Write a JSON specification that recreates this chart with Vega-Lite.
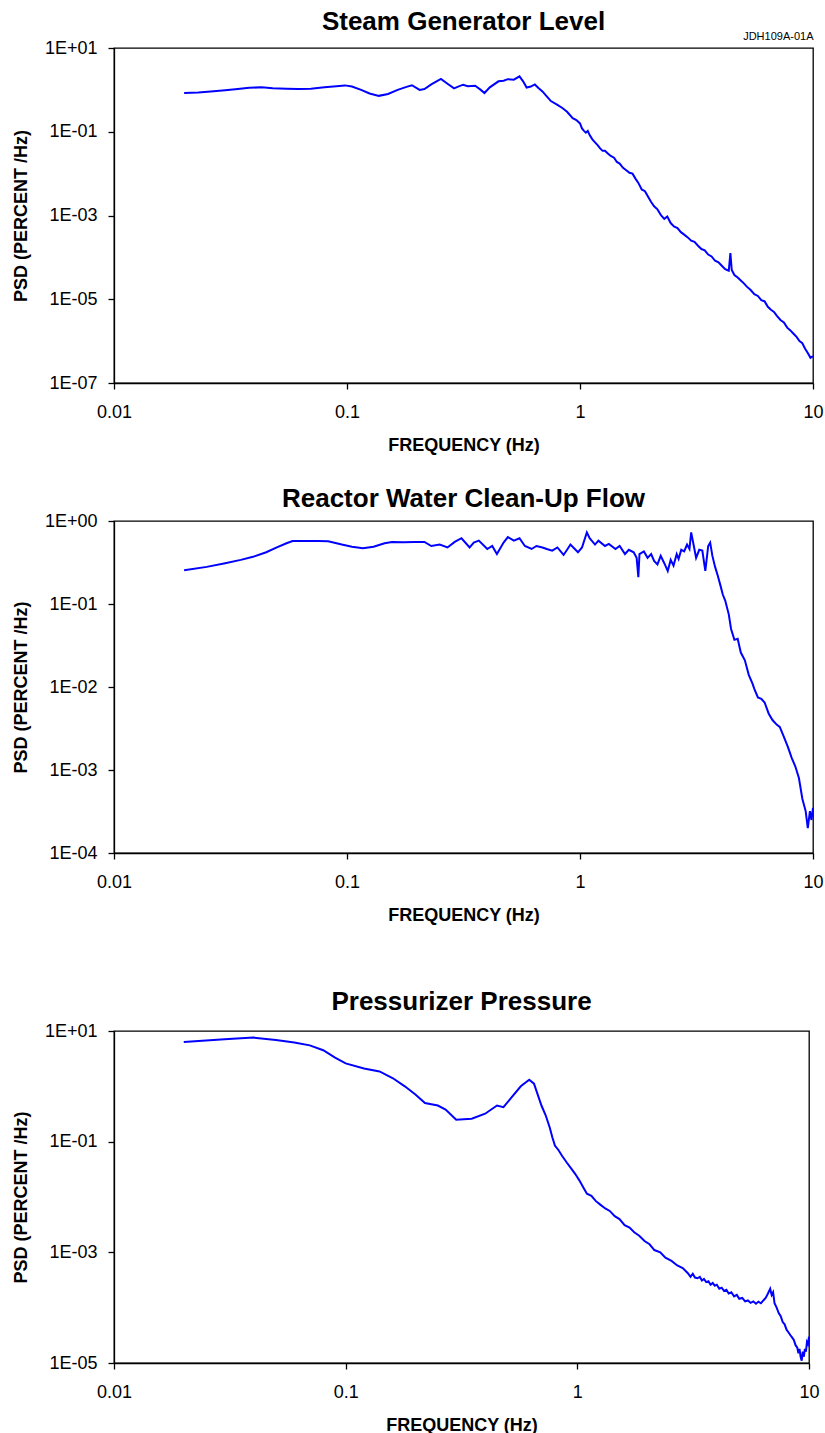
{
"$schema": "https://vega.github.io/schema/vega-lite/v6.json",
"background": "white",
"padding": {"left": 11, "top": 8, "right": 10, "bottom": 0},
"spacing": 30,
"config": {
 "font": "Liberation Sans",
 "view": {"stroke": "#000000", "strokeWidth": 1.3},
 "axis": {"grid": false, "labelFlush": false, "domainColor": "#000000", "domainWidth": 1.3, "tickColor": "#000000", "tickWidth": 1.3, "tickSize": 6, "labelFont": "Liberation Sans", "labelFontSize": 18, "labelColor": "#000000", "titleFont": "Liberation Sans", "titleFontSize": 18, "titleFontWeight": "bold", "titleColor": "#000000"},
 "title": {"font": "Liberation Sans", "fontSize": 26, "fontWeight": "bold", "color": "#000000", "offset": 10}
},
"datasets": {
 "sg": [
  {"f":0.020,"p":0.84},{"f":0.023,"p":0.86},{"f":0.026,"p":0.92},{"f":0.030,"p":0.98},{"f":0.034,"p":1.05},{"f":0.038,"p":1.12},{"f":0.043,"p":1.15},{"f":0.048,"p":1.10},{"f":0.055,"p":1.07},{"f":0.062,"p":1.05},{"f":0.070,"p":1.07},{"f":0.080,"p":1.15},{"f":0.090,"p":1.22},{"f":0.098,"p":1.28},{"f":0.105,"p":1.20},{"f":0.115,"p":1.00},{"f":0.125,"p":0.82},{"f":0.137,"p":0.72},{"f":0.150,"p":0.80},{"f":0.165,"p":1.00},{"f":0.180,"p":1.18},{"f":0.190,"p":1.29},{"f":0.205,"p":1.00},{"f":0.215,"p":1.05},{"f":0.230,"p":1.35},{"f":0.253,"p":1.82},{"f":0.270,"p":1.40},{"f":0.288,"p":1.09},{"f":0.300,"p":1.20},{"f":0.315,"p":1.33},{"f":0.330,"p":1.22},{"f":0.355,"p":1.25},{"f":0.375,"p":1.00},{"f":0.389,"p":0.84},{"f":0.410,"p":1.15},{"f":0.447,"p":1.60},{"f":0.470,"p":1.65},{"f":0.490,"p":1.80},{"f":0.520,"p":1.75},{"f":0.550,"p":2.10},{"f":0.570,"p":1.60},{"f":0.590,"p":1.14},{"f":0.615,"p":1.20},{"f":0.640,"p":1.35},{"f":0.665,"p":1.10},{"f":0.690,"p":0.92},{"f":0.720,"p":0.70},{"f":0.750,"p":0.54},{"f":0.800,"p":0.44},{"f":0.840,"p":0.37},{"f":0.880,"p":0.30},{"f":0.930,"p":0.21},{"f":0.965,"p":0.19},
  {"f":1.00,"p":0.158},{"f":1.02,"p":0.12},{"f":1.04,"p":0.105},{"f":1.06,"p":0.095},{"f":1.08,"p":0.105},{"f":1.10,"p":0.083},{"f":1.13,"p":0.066},{"f":1.16,"p":0.056},{"f":1.19,"p":0.048},{"f":1.22,"p":0.040},{"f":1.25,"p":0.035},{"f":1.28,"p":0.035},{"f":1.32,"p":0.030},{"f":1.36,"p":0.026},{"f":1.40,"p":0.024},{"f":1.44,"p":0.019},{"f":1.48,"p":0.0174},{"f":1.53,"p":0.0138},{"f":1.58,"p":0.012},{"f":1.63,"p":0.0105},{"f":1.68,"p":0.010},{"f":1.73,"p":0.0076},{"f":1.78,"p":0.006},{"f":1.84,"p":0.0042},{"f":1.90,"p":0.0038},{"f":1.96,"p":0.0028},{"f":2.02,"p":0.0021},{"f":2.08,"p":0.00166},{"f":2.15,"p":0.0014},{"f":2.23,"p":0.001},{"f":2.30,"p":0.00083},{"f":2.37,"p":0.00095},{"f":2.45,"p":0.00066},{"f":2.53,"p":0.00055},{"f":2.62,"p":0.0005},{"f":2.71,"p":0.0004},{"f":2.80,"p":0.00035},{"f":2.90,"p":0.0003},{"f":3.00,"p":0.00025},{"f":3.10,"p":0.000234},{"f":3.21,"p":0.00019},{"f":3.32,"p":0.000158},{"f":3.43,"p":0.000148},{"f":3.55,"p":0.000117},{"f":3.67,"p":0.000105},{"f":3.80,"p":8.3e-5},{"f":3.93,"p":7.6e-5},{"f":4.06,"p":6.3e-5},{"f":4.20,"p":5.2e-5},{"f":4.35,"p":4.8e-5},{"f":4.42,"p":1.26e-4},{"f":4.48,"p":5e-5},{"f":4.60,"p":3.8e-5},{"f":4.75,"p":3.3e-5},{"f":4.90,"p":2.8e-5},{"f":5.05,"p":2.4e-5},{"f":5.20,"p":2.0e-5},{"f":5.40,"p":1.66e-5},{"f":5.60,"p":1.32e-5},{"f":5.80,"p":1.2e-5},{"f":6.00,"p":9.5e-6},{"f":6.20,"p":8.9e-6},{"f":6.40,"p":6.6e-6},{"f":6.60,"p":5.6e-6},{"f":6.80,"p":5.0e-6},{"f":7.00,"p":4.0e-6},{"f":7.25,"p":3.2e-6},{"f":7.50,"p":2.8e-6},{"f":7.75,"p":2.1e-6},{"f":8.00,"p":1.8e-6},{"f":8.25,"p":1.5e-6},{"f":8.50,"p":1.26e-6},{"f":8.75,"p":1.0e-6},{"f":9.00,"p":8.9e-7},{"f":9.25,"p":6.6e-7},{"f":9.50,"p":5.2e-7},{"f":9.75,"p":4.0e-7},{"f":10.0,"p":4.4e-7}
 ],
 "rw": [
  {"f":0.020,"p":0.255},{"f":0.025,"p":0.28},{"f":0.030,"p":0.31},{"f":0.035,"p":0.34},{"f":0.0395,"p":0.37},{"f":0.045,"p":0.42},{"f":0.050,"p":0.48},{"f":0.055,"p":0.54},{"f":0.0584,"p":0.575},{"f":0.065,"p":0.575},{"f":0.075,"p":0.575},{"f":0.083,"p":0.57},{"f":0.095,"p":0.52},{"f":0.105,"p":0.49},{"f":0.117,"p":0.47},{"f":0.13,"p":0.49},{"f":0.145,"p":0.54},{"f":0.156,"p":0.56},{"f":0.175,"p":0.555},{"f":0.195,"p":0.56},{"f":0.215,"p":0.56},{"f":0.23,"p":0.50},{"f":0.25,"p":0.52},{"f":0.27,"p":0.48},{"f":0.29,"p":0.56},{"f":0.31,"p":0.62},{"f":0.336,"p":0.48},{"f":0.35,"p":0.55},{"f":0.368,"p":0.58},{"f":0.40,"p":0.46},{"f":0.42,"p":0.50},{"f":0.44,"p":0.40},{"f":0.47,"p":0.55},{"f":0.49,"p":0.64},{"f":0.52,"p":0.58},{"f":0.55,"p":0.62},{"f":0.58,"p":0.50},{"f":0.62,"p":0.46},{"f":0.65,"p":0.50},{"f":0.69,"p":0.48},{"f":0.72,"p":0.46},{"f":0.76,"p":0.44},{"f":0.80,"p":0.48},{"f":0.85,"p":0.39},{"f":0.88,"p":0.45},{"f":0.91,"p":0.52},{"f":0.95,"p":0.46},{"f":0.98,"p":0.42},{"f":1.02,"p":0.48},{"f":1.07,"p":0.73},{"f":1.10,"p":0.62},{"f":1.16,"p":0.52},{"f":1.20,"p":0.58},{"f":1.28,"p":0.50},{"f":1.33,"p":0.53},{"f":1.42,"p":0.46},{"f":1.48,"p":0.50},{"f":1.56,"p":0.40},{"f":1.62,"p":0.45},{"f":1.70,"p":0.42},{"f":1.75,"p":0.36},{"f":1.78,"p":0.21},{"f":1.80,"p":0.40},{"f":1.88,"p":0.43},{"f":1.95,"p":0.36},{"f":2.02,"p":0.40},{"f":2.08,"p":0.33},{"f":2.15,"p":0.30},{"f":2.22,"p":0.38},{"f":2.30,"p":0.31},{"f":2.38,"p":0.25},{"f":2.45,"p":0.34},{"f":2.52,"p":0.29},{"f":2.60,"p":0.40},{"f":2.65,"p":0.35},{"f":2.72,"p":0.45},{"f":2.80,"p":0.43},{"f":2.88,"p":0.52},{"f":2.95,"p":0.46},{"f":3.00,"p":0.73},{"f":3.08,"p":0.50},{"f":3.15,"p":0.36},{"f":3.25,"p":0.45},{"f":3.35,"p":0.44},{"f":3.45,"p":0.25},{"f":3.55,"p":0.50},{"f":3.62,"p":0.55},{"f":3.70,"p":0.38},{"f":3.80,"p":0.28},{"f":3.90,"p":0.22},{"f":4.00,"p":0.17},{"f":4.10,"p":0.13},{"f":4.20,"p":0.11},{"f":4.35,"p":0.075},{"f":4.45,"p":0.05},{"f":4.60,"p":0.037},{"f":4.75,"p":0.038},{"f":4.90,"p":0.026},{"f":5.10,"p":0.021},{"f":5.30,"p":0.014},{"f":5.50,"p":0.011},{"f":5.60,"p":0.0095},{"f":5.80,"p":0.0075},{"f":6.00,"p":0.0072},{"f":6.20,"p":0.0065},{"f":6.45,"p":0.0048},{"f":6.70,"p":0.004},{"f":7.00,"p":0.0035},{"f":7.20,"p":0.0033},{"f":7.50,"p":0.0025},{"f":7.80,"p":0.0019},{"f":8.10,"p":0.0014},{"f":8.40,"p":0.0011},{"f":8.70,"p":0.0008},{"f":9.00,"p":0.00045},{"f":9.30,"p":0.00032},{"f":9.50,"p":0.0002},{"f":9.70,"p":0.00032},{"f":9.85,"p":0.00025},{"f":10.0,"p":0.00035}
 ],
 "pp": [
  {"f":0.020,"p":6.3},{"f":0.030,"p":7.1},{"f":0.040,"p":7.6},{"f":0.050,"p":6.9},{"f":0.060,"p":6.2},{"f":0.070,"p":5.5},{"f":0.080,"p":4.5},{"f":0.090,"p":3.3},{"f":0.100,"p":2.6},{"f":0.120,"p":2.1},{"f":0.140,"p":1.86},{"f":0.160,"p":1.4},{"f":0.180,"p":1.0},{"f":0.200,"p":0.71},{"f":0.220,"p":0.5},{"f":0.250,"p":0.45},{"f":0.270,"p":0.38},{"f":0.300,"p":0.25},{"f":0.350,"p":0.26},{"f":0.400,"p":0.32},{"f":0.450,"p":0.45},{"f":0.480,"p":0.42},{"f":0.520,"p":0.63},{"f":0.570,"p":1.0},{"f":0.620,"p":1.32},{"f":0.650,"p":1.12},{"f":0.700,"p":0.45},{"f":0.730,"p":0.3},{"f":0.760,"p":0.18},{"f":0.780,"p":0.12},{"f":0.800,"p":0.085},{"f":0.830,"p":0.07},{"f":0.860,"p":0.055},{"f":0.900,"p":0.042},{"f":0.940,"p":0.033},{"f":0.980,"p":0.026},{"f":1.02,"p":0.02},{"f":1.06,"p":0.015},{"f":1.10,"p":0.0115},{"f":1.15,"p":0.0105},{"f":1.20,"p":0.0085},{"f":1.26,"p":0.0072},{"f":1.32,"p":0.0062},{"f":1.38,"p":0.0056},{"f":1.45,"p":0.0045},{"f":1.52,"p":0.004},{"f":1.60,"p":0.0031},{"f":1.68,"p":0.0028},{"f":1.76,"p":0.0023},{"f":1.85,"p":0.002},{"f":1.95,"p":0.0016},{"f":2.05,"p":0.0014},{"f":2.15,"p":0.0011},{"f":2.28,"p":0.001},{"f":2.40,"p":0.0008},{"f":2.55,"p":0.0007},{"f":2.70,"p":0.00058},{"f":2.85,"p":0.00052},{"f":3.00,"p":0.00042},{"f":3.08,"p":0.00036},{"f":3.15,"p":0.00041},{"f":3.22,"p":0.00035},{"f":3.30,"p":0.00034},{"f":3.38,"p":0.00036},{"f":3.45,"p":0.00031},{"f":3.52,"p":0.00033},{"f":3.60,"p":0.00029},{"f":3.68,"p":0.0003},{"f":3.76,"p":0.00026},{"f":3.84,"p":0.00028},{"f":3.92,"p":0.00025},{"f":4.00,"p":0.00026},{"f":4.10,"p":0.00022},{"f":4.20,"p":0.00023},{"f":4.30,"p":0.0002},{"f":4.40,"p":0.00021},{"f":4.50,"p":0.00018},{"f":4.62,"p":0.00019},{"f":4.75,"p":0.00016},{"f":4.88,"p":0.00017},{"f":5.00,"p":0.000145},{"f":5.15,"p":0.00015},{"f":5.30,"p":0.00013},{"f":5.45,"p":0.000135},{"f":5.60,"p":0.000122},{"f":5.75,"p":0.00013},{"f":5.90,"p":0.000118},{"f":6.05,"p":0.000128},{"f":6.20,"p":0.00012},{"f":6.35,"p":0.000135},{"f":6.50,"p":0.00015},{"f":6.65,"p":0.00018},{"f":6.80,"p":0.00022},{"f":6.90,"p":0.00017},{"f":7.00,"p":0.00019},{"f":7.10,"p":0.00012},{"f":7.25,"p":0.0001},{"f":7.40,"p":0.00008},{"f":7.55,"p":0.00007},{"f":7.70,"p":0.000055},{"f":7.85,"p":0.00005},{"f":8.00,"p":0.00004},{"f":8.15,"p":0.000036},{"f":8.30,"p":0.000032},{"f":8.45,"p":0.000029},{"f":8.60,"p":0.000026},{"f":8.75,"p":0.000021},{"f":8.90,"p":0.000019},{"f":9.00,"p":0.000015},{"f":9.10,"p":0.000018},{"f":9.20,"p":0.000013},{"f":9.30,"p":0.000011},{"f":9.40,"p":0.000016},{"f":9.50,"p":0.000013},{"f":9.60,"p":0.000018},{"f":9.70,"p":0.000016},{"f":9.80,"p":0.000024},{"f":9.90,"p":0.000022},{"f":10.0,"p":0.00003}
 ]
},
"vconcat": [
 {
  "width": 699, "height": 335,
  "title": {"text": "Steam Generator Level", "offset": -5},
  "data": {"name": "sg"},
  "layer": [
   {"mark": {"type": "line", "color": "#0000ff", "strokeWidth": 2},
    "encoding": {
     "x": {"field": "f", "type": "quantitative", "scale": {"type": "log", "domain": [0.01, 10]}, "axis": {"values": [0.01, 0.1, 1, 10], "format": "~g", "title": "FREQUENCY (Hz)", "labelPadding": 14, "titlePadding": 15}},
     "y": {"field": "p", "type": "quantitative", "scale": {"type": "log", "domain": [1e-7, 10]}, "axis": {"values": [10, 0.1, 0.001, 1e-5, 1e-7], "labelExpr": "'1E' + (round(log(datum.value)/LN10) >= 0 ? '+' : '-') + (abs(round(log(datum.value)/LN10)) < 10 ? '0' : '') + abs(round(log(datum.value)/LN10))", "title": "PSD (PERCENT /Hz)", "labelPadding": 11, "titlePadding": 14}}
    }},
   {"mark": {"type": "line", "opacity": 0},
    "encoding": {
     "x": {"field": "f", "type": "quantitative", "scale": {"type": "log", "domain": [0.01, 10]}, "axis": {"orient": "top", "title": "JDH109A-01A", "labels": false, "ticks": false, "domain": false, "titleAnchor": "end", "titleFontSize": 11, "titleFontWeight": "normal", "titlePadding": 7}},
     "y": {"field": "p", "type": "quantitative"}
    }}
  ],
  "resolve": {"axis": {"x": "independent"}}
 },
 {
  "width": 699, "height": 332,
  "title": {"text": "Reactor Water Clean-Up Flow", "offset": 0},
  "data": {"name": "rw"},
  "mark": {"type": "line", "color": "#0000ff", "strokeWidth": 2},
  "encoding": {
   "x": {"field": "f", "type": "quantitative", "scale": {"type": "log", "domain": [0.01, 10]}, "axis": {"values": [0.01, 0.1, 1, 10], "format": "~g", "title": "FREQUENCY (Hz)", "labelPadding": 14, "titlePadding": 15}},
   "y": {"field": "p", "type": "quantitative", "scale": {"type": "log", "domain": [1e-4, 1]}, "axis": {"values": [1, 0.1, 0.01, 0.001, 1e-4], "labelExpr": "'1E' + (round(log(datum.value)/LN10) >= 0 ? '+' : '-') + (abs(round(log(datum.value)/LN10)) < 10 ? '0' : '') + abs(round(log(datum.value)/LN10))", "title": "PSD (PERCENT /Hz)", "labelPadding": 11, "titlePadding": 14}}
  }
 },
 {
  "width": 695, "height": 332,
  "title": {"text": ["", "Pressurizer Pressure"], "lineHeight": 33, "offset": 7},
  "data": {"name": "pp"},
  "mark": {"type": "line", "color": "#0000ff", "strokeWidth": 2},
  "encoding": {
   "x": {"field": "f", "type": "quantitative", "scale": {"type": "log", "domain": [0.01, 10]}, "axis": {"values": [0.01, 0.1, 1, 10], "format": "~g", "title": "FREQUENCY (Hz)", "labelPadding": 14, "titlePadding": 15}},
   "y": {"field": "p", "type": "quantitative", "scale": {"type": "log", "domain": [1e-5, 10]}, "axis": {"values": [10, 0.1, 0.001, 1e-5], "labelExpr": "'1E' + (round(log(datum.value)/LN10) >= 0 ? '+' : '-') + (abs(round(log(datum.value)/LN10)) < 10 ? '0' : '') + abs(round(log(datum.value)/LN10))", "title": "PSD (PERCENT /Hz)", "labelPadding": 11, "titlePadding": 14}}
  }
 }
]
}
